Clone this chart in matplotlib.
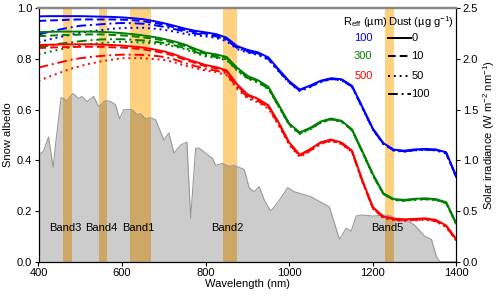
import numpy as np
import matplotlib
matplotlib.use('Agg')
import matplotlib.pyplot as plt

plt.rcParams['font.family'] = ['Liberation Sans', 'DejaVu Sans']
plt.rcParams['mathtext.fontset'] = 'custom'
plt.rcParams['mathtext.rm'] = 'Liberation Sans'

# wavelength grid for the albedo curves (nm)
wl = np.arange(400, 1401, 25)

# clean snow (dust 0) for the three grain sizes
blue_0 = [0.968, 0.969, 0.969, 0.969, 0.969, 0.968, 0.967, 0.966, 0.964, 0.961, 0.957, 0.950, 0.941, 0.931,
          0.920, 0.911, 0.905, 0.898, 0.884, 0.851, 0.836, 0.826, 0.806, 0.758, 0.712, 0.679, 0.695, 0.714,
          0.724, 0.720, 0.694, 0.610, 0.525, 0.468, 0.442, 0.438, 0.443, 0.445, 0.443, 0.432, 0.335]
green_0 = [0.906, 0.907, 0.908, 0.908, 0.908, 0.908, 0.907, 0.905, 0.902, 0.898, 0.893, 0.887, 0.879, 0.869,
           0.857, 0.840, 0.825, 0.818, 0.808, 0.766, 0.733, 0.716, 0.690, 0.618, 0.545, 0.510, 0.528, 0.553,
           0.565, 0.556, 0.522, 0.435, 0.345, 0.270, 0.247, 0.244, 0.248, 0.250, 0.247, 0.235, 0.150]
red_0 = [0.855, 0.856, 0.857, 0.858, 0.858, 0.858, 0.857, 0.855, 0.853, 0.849, 0.845, 0.838, 0.830, 0.818,
         0.802, 0.789, 0.776, 0.768, 0.755, 0.700, 0.660, 0.643, 0.617, 0.548, 0.470, 0.422, 0.444, 0.471,
         0.482, 0.470, 0.438, 0.320, 0.215, 0.178, 0.170, 0.167, 0.169, 0.171, 0.165, 0.143, 0.088]

# dust 10 ug/g
blue_10 = [0.950, 0.952, 0.953, 0.955, 0.956, 0.956, 0.956, 0.956, 0.955, 0.953, 0.949, 0.943, 0.935, 0.925,
           0.914, 0.906, 0.900, 0.893, 0.879, 0.847, 0.832, 0.822, 0.802, 0.755, 0.709, 0.677, 0.693, 0.712,
           0.722, 0.718, 0.692, 0.608, 0.523, 0.466, 0.440, 0.436, 0.441, 0.443, 0.441, 0.430, 0.333]
green_10 = [0.890, 0.892, 0.894, 0.895, 0.896, 0.897, 0.897, 0.895, 0.893, 0.890, 0.885, 0.880, 0.873, 0.863,
            0.851, 0.835, 0.820, 0.813, 0.803, 0.762, 0.729, 0.712, 0.686, 0.615, 0.542, 0.508, 0.526, 0.551,
            0.563, 0.554, 0.520, 0.433, 0.343, 0.268, 0.245, 0.242, 0.246, 0.248, 0.245, 0.233, 0.148]
red_10 = [0.843, 0.845, 0.846, 0.847, 0.848, 0.848, 0.848, 0.846, 0.845, 0.842, 0.838, 0.831, 0.824, 0.812,
          0.797, 0.784, 0.771, 0.763, 0.750, 0.696, 0.656, 0.639, 0.614, 0.545, 0.467, 0.419, 0.442, 0.469,
          0.480, 0.468, 0.436, 0.318, 0.213, 0.176, 0.168, 0.165, 0.167, 0.169, 0.163, 0.141, 0.086]

# dust 50 ug/g
blue_50 = [0.866, 0.877, 0.886, 0.895, 0.904, 0.909, 0.914, 0.919, 0.922, 0.923, 0.923, 0.920, 0.915, 0.908,
           0.899, 0.893, 0.889, 0.883, 0.870, 0.839, 0.825, 0.816, 0.797, 0.750, 0.705, 0.673, 0.689, 0.709,
           0.720, 0.716, 0.690, 0.606, 0.521, 0.464, 0.438, 0.434, 0.439, 0.441, 0.439, 0.428, 0.331]
green_50 = [0.818, 0.828, 0.837, 0.846, 0.853, 0.859, 0.863, 0.866, 0.868, 0.867, 0.865, 0.862, 0.857, 0.849,
            0.839, 0.823, 0.810, 0.804, 0.795, 0.754, 0.722, 0.706, 0.681, 0.610, 0.538, 0.504, 0.522, 0.548,
            0.561, 0.552, 0.518, 0.431, 0.341, 0.266, 0.243, 0.240, 0.244, 0.246, 0.243, 0.231, 0.146]
red_50 = [0.713, 0.730, 0.745, 0.760, 0.772, 0.782, 0.791, 0.797, 0.803, 0.803, 0.803, 0.800, 0.796, 0.787,
          0.774, 0.764, 0.754, 0.748, 0.736, 0.683, 0.644, 0.629, 0.604, 0.537, 0.460, 0.413, 0.436, 0.464,
          0.476, 0.464, 0.432, 0.314, 0.209, 0.172, 0.164, 0.161, 0.163, 0.165, 0.159, 0.137, 0.082]

# dust 100 ug/g
blue_100 = [0.896, 0.907, 0.916, 0.924, 0.931, 0.934, 0.937, 0.940, 0.942, 0.941, 0.939, 0.934, 0.927, 0.918,
            0.908, 0.900, 0.895, 0.889, 0.875, 0.843, 0.829, 0.819, 0.800, 0.752, 0.707, 0.675, 0.691, 0.710,
            0.721, 0.717, 0.691, 0.607, 0.522, 0.465, 0.439, 0.435, 0.440, 0.442, 0.440, 0.429, 0.332]
green_100 = [0.846, 0.853, 0.860, 0.865, 0.870, 0.874, 0.877, 0.878, 0.878, 0.876, 0.873, 0.869, 0.863, 0.854,
             0.843, 0.828, 0.814, 0.808, 0.798, 0.757, 0.725, 0.709, 0.683, 0.612, 0.540, 0.506, 0.524, 0.549,
             0.562, 0.553, 0.519, 0.432, 0.342, 0.267, 0.244, 0.241, 0.245, 0.247, 0.244, 0.232, 0.147]
red_100 = [0.766, 0.776, 0.786, 0.796, 0.803, 0.808, 0.812, 0.815, 0.817, 0.817, 0.816, 0.813, 0.808, 0.798,
           0.784, 0.772, 0.761, 0.754, 0.742, 0.689, 0.650, 0.634, 0.609, 0.541, 0.464, 0.417, 0.439, 0.467,
           0.478, 0.466, 0.434, 0.316, 0.211, 0.174, 0.166, 0.163, 0.165, 0.167, 0.161, 0.139, 0.084]

# solar irradiance (W m-2 nm-1)
wl_irr = [400, 412, 424, 435, 442, 454, 468, 482, 496, 504, 516, 532, 544, 560, 572, 584, 594, 604, 616, 624,
          636, 644, 656, 668, 680, 688, 700, 712, 724, 740, 755, 764, 776, 784, 800, 816, 824, 840, 856, 868,
          892, 904, 916, 928, 940, 955, 964, 980, 996, 1012, 1052, 1096, 1120, 1136, 1148, 1160, 1172, 1200,
          1228, 1244, 1260, 1284, 1300, 1324, 1340, 1352, 1360, 1400]
irr = [1.05, 1.09, 1.23, 0.93, 1.20, 1.62, 1.59, 1.66, 1.61, 1.63, 1.58, 1.63, 1.53, 1.59, 1.58, 1.55, 1.41,
       1.50, 1.50, 1.50, 1.45, 1.46, 1.41, 1.42, 1.40, 1.32, 1.20, 1.27, 1.07, 1.15, 1.18, 0.43, 1.12, 1.12,
       1.07, 1.02, 0.95, 0.97, 0.94, 0.95, 0.91, 0.73, 0.69, 0.74, 0.61, 0.50, 0.54, 0.63, 0.73, 0.69, 0.64,
       0.54, 0.22, 0.33, 0.30, 0.45, 0.46, 0.45, 0.46, 0.45, 0.40, 0.40, 0.36, 0.25, 0.22, 0.05, 0.0, 0.0]

# MODIS bands (nm)
band_names = ['Band3', 'Band4', 'Band1', 'Band2', 'Band5']
band_lo = [459, 545, 620, 841, 1230]
band_hi = [479, 565, 670, 876, 1250]

reff_labels = ['100', '300', '500']
reff_colors = ['#0000ff', '#008000', '#ff0000']
dust_labels = ['0', '10', '50', '100']
dust_styles = ['-', (0, (4, 2)), (0, (1, 2)), (0, (5, 2, 1, 2))]

series = [[blue_0, blue_10, blue_50, blue_100],
          [green_0, green_10, green_50, green_100],
          [red_0, red_10, red_50, red_100]]

fs = 8
fig = plt.figure(figsize=(5, 2.96), dpi=100)
ax = fig.add_axes([0.077, 0.116, 0.836, 0.856])
ax2 = ax.twinx()

# bands and irradiance on the right axis, underneath the albedo curves
for lo, hi in zip(band_lo, band_hi):
    ax2.axvspan(lo, hi, color='#ffa500', alpha=0.5, lw=0)
ax2.fill_between(wl_irr, irr, 0, color='k', alpha=0.2, lw=0)
ax2.plot(wl_irr, irr, color='#999999', lw=0.8)
ax.set_zorder(ax2.get_zorder() + 1)
ax.patch.set_visible(False)

for i in range(len(series)):
    for j in range(len(dust_styles)):
        ax.plot(wl, series[i][j], color=reff_colors[i], ls=dust_styles[j], lw=1.4)

for name, lo, hi in zip(band_names, band_lo, band_hi):
    ax.text((lo + hi) / 2 - 6, 0.132, name, ha='center', va='center', fontsize=fs)

# legend written as text
ax.text(1128, 0.944, r'R$_{\mathrm{eff}}$ (µm)', ha='left', va='center', fontsize=fs)
ax.text(1237, 0.944, r'Dust (µg g$^{-1}$)', ha='left', va='center', fontsize=fs)
reff_y = [0.882, 0.81, 0.731]
for lab, c, y in zip(reff_labels, reff_colors, reff_y):
    ax.text(1177, y, lab, color=c, ha='center', va='center', fontsize=fs)
dust_y = [0.882, 0.81, 0.731, 0.66]
for lab, ls, y in zip(dust_labels, dust_styles, dust_y):
    ax.plot([1236, 1290], [y, y], color='k', ls=ls, lw=1.4)
    ax.text(1292, y, lab, ha='left', va='center', fontsize=fs)

ax.set_xlim(400, 1400)
ax.set_ylim(0, 1)
ax2.set_ylim(0, 2.5)
ax.set_xticks(np.arange(400, 1401, 200))
ax.set_yticks(np.arange(0, 1.01, 0.2))
ax.set_yticklabels(['%.1f' % v for v in np.arange(0, 1.01, 0.2)])
ax2.set_yticks(np.arange(0, 2.51, 0.5))
ax2.set_yticklabels(['%.1f' % v for v in np.arange(0, 2.51, 0.5)])
ax.tick_params(labelsize=fs, length=3, pad=1.5)
ax2.tick_params(labelsize=fs, length=3, pad=1.5)
ax.set_xlabel('Wavelength (nm)', fontsize=fs, labelpad=1)
ax.set_ylabel('Snow albedo', fontsize=fs, labelpad=3)
ax2.set_ylabel(r'Solar irradiance (W m$^{-2}$ nm$^{-1}$)', fontsize=fs, labelpad=2)

for a in (ax, ax2):
    a.spines['top'].set_color('#888888')
    a.spines['top'].set_linewidth(1.6)

fig.savefig('out.png', dpi=100)
